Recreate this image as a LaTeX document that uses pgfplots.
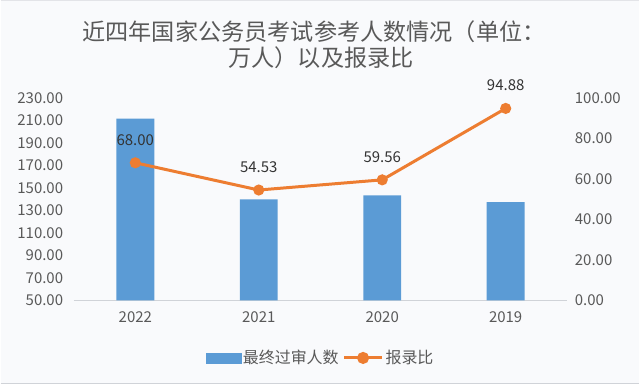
\documentclass[border=0pt]{standalone}
\usepackage{fontspec}
\setmainfont{Noto Sans CJK SC}
\usepackage{pgfplots}
\pgfplotsset{compat=1.18}
\definecolor{barblue}{HTML}{5B9BD5}
\definecolor{lineorange}{HTML}{ED7D31}
\definecolor{txtgray}{HTML}{595959}
\definecolor{bg}{HTML}{F9FAFC}
\definecolor{axgray}{HTML}{D0D3D8}
\begin{document}
\begin{tikzpicture}
\fill[bg] (0,0) rectangle (640bp,385bp);
\draw[axgray, line width=1.5bp] (0,0.75bp) -- (640bp,0.75bp);
\draw[axgray!60, line width=1bp] (0,384.5bp) -- (640bp,384.5bp);
\useasboundingbox (0,0) rectangle (640bp,385bp);
\node[text=txtgray, font=\fontsize{23.2bp}{27bp}\selectfont] at (314bp,353bp) {近四年国家公务员考试参考人数情况（单位：};
\node[text=txtgray, font=\fontsize{23.2bp}{27bp}\selectfont] at (321bp,327bp) {万人）以及报录比};
\begin{axis}[
  at={(73bp,84bp)}, anchor=south west,
  scale only axis, width=495bp, height=202.7bp,
  xmin=-0.5, xmax=3.5, ymin=50, ymax=230,
  axis x line*=bottom, axis y line*=left,
  x axis line style={axgray, line width=1bp, -},
  y axis line style={draw=none},
  major tick length=0pt,
  xtick={0,1,2,3}, xticklabels={2022,2021,2020,2019},
  ytick={50,70,...,230},
  /pgf/number format/assume math mode=true,
  yticklabel={\pgfmathprintnumber[fixed,fixed zerofill,precision=2]{\tick}},
  yticklabel style={text=txtgray, font=\fontsize{15bp}{18bp}\selectfont, xshift=-7bp},
  xticklabel style={text=txtgray, font=\fontsize{15bp}{18bp}\selectfont, yshift=-8bp},
]
\addplot[ybar, bar width=38bp, fill=barblue, draw=none] coordinates {(0,211.8) (1,139.8) (2,143.3) (3,137.4)};
\end{axis}
\begin{axis}[
  at={(73bp,84bp)}, anchor=south west,
  scale only axis, width=495bp, height=202.7bp,
  xmin=-0.5, xmax=3.5, ymin=0, ymax=100,
  axis x line=none, axis y line*=right,
  y axis line style={draw=none},
  major tick length=0pt,
  ytick={0,20,...,100},
  /pgf/number format/assume math mode=true,
  yticklabel={\pgfmathprintnumber[fixed,fixed zerofill,precision=2]{\tick}},
  yticklabel style={text=txtgray, font=\fontsize{15bp}{18bp}\selectfont, xshift=4bp},
  legend style={at={(0.5,-0.285)}, anchor=center, draw=none, fill=none,
    font=\fontsize{16bp}{19bp}\selectfont, text=txtgray, legend columns=2,
    /tikz/every even column/.append style={column sep=2bp}},
  clip=false,
]
\addlegendimage{legend image code/.code={\fill[barblue] (0bp,-5bp) rectangle (35bp,5bp);}}
\addlegendentry{最终过审人数}
\addplot[lineorange, line width=3bp, mark=*, mark size=4bp, mark options={fill=lineorange, draw=lineorange},
  legend image code/.code={\draw[lineorange, line width=3bp] (0bp,0bp) -- (38bp,0bp); \fill[lineorange] (19bp,0bp) circle (4.5bp);},
  nodes near coords={\pgfmathprintnumber[fixed,fixed zerofill,precision=2]{\pgfplotspointmeta}},
  point meta=y,
  every node near coord/.append style={anchor=center, yshift=23bp, text=black!80, font=\fontsize{15bp}{18bp}\selectfont}]
  coordinates {(0,68.00) (1,54.53) (2,59.56) (3,94.88)};
\addlegendentry{报录比}
\end{axis}
\end{tikzpicture}
\end{document}
